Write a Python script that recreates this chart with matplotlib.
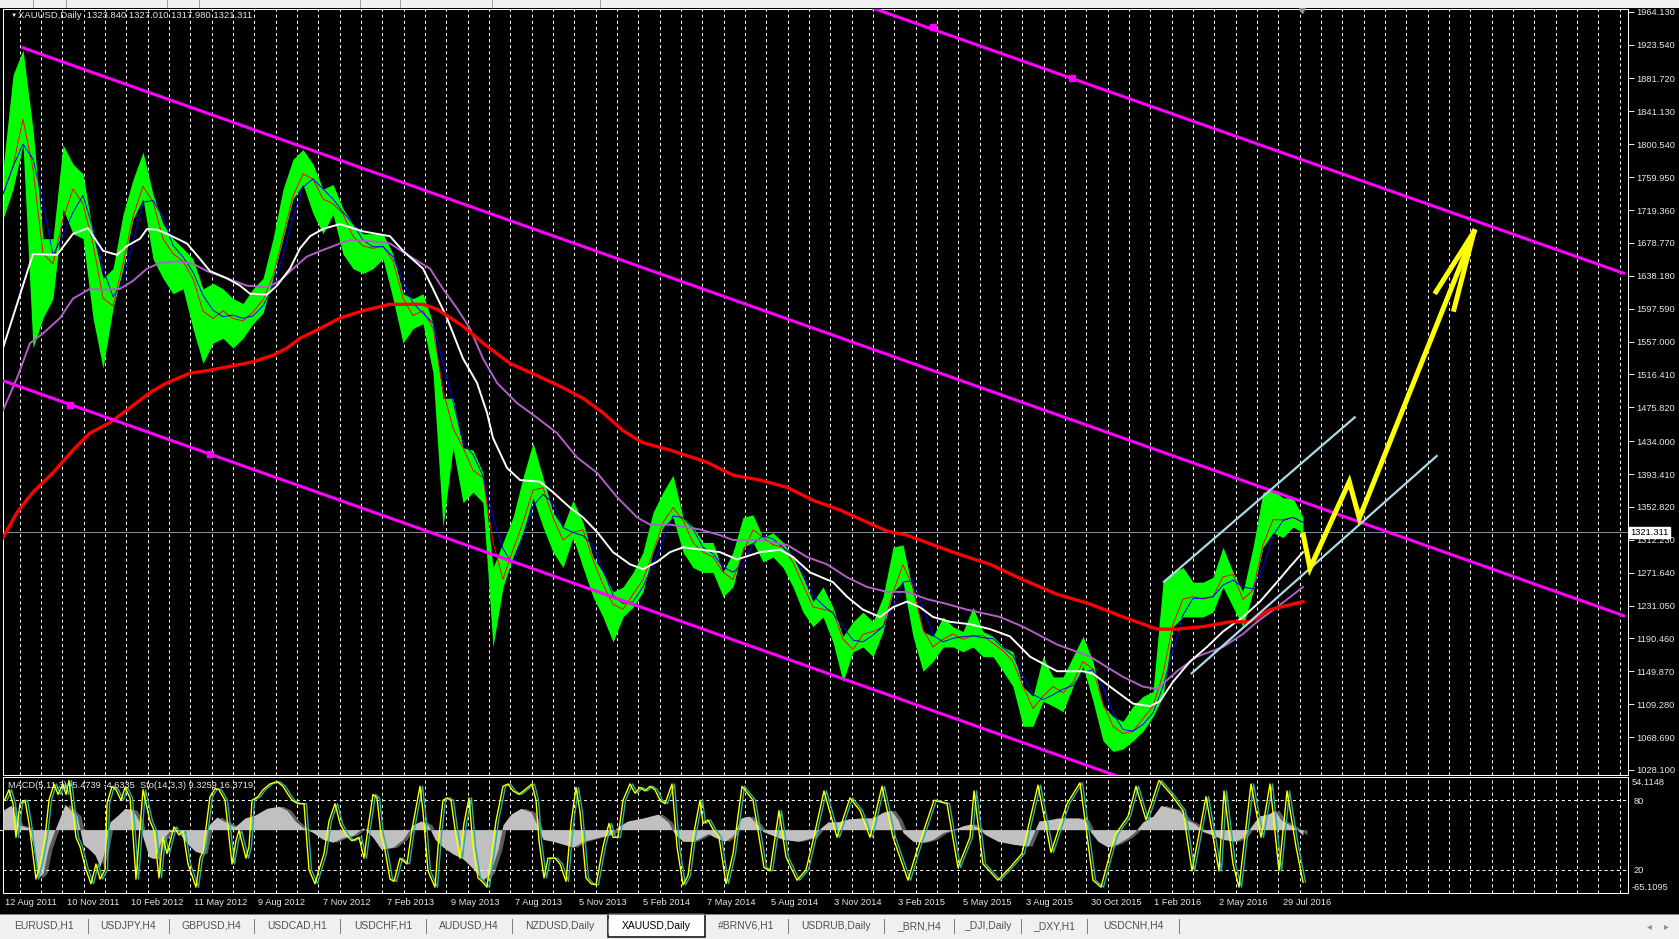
import numpy as np
import pandas as pd
import matplotlib
matplotlib.use("Agg")
import matplotlib.pyplot as plt
import matplotlib.transforms as mtrans
from matplotlib.patches import Rectangle

plt.rcParams['font.family'] = ['Liberation Sans', 'DejaVu Sans']
plt.rcParams['lines.scale_dashes'] = False

# price samples, every 10 daily bars (bar 0 = 12 Aug 2011)
bars = np.arange(0, 1310, 10)
mid = [1739, 1807, 1856, 1684, 1647, 1659, 1758, 1733, 1721, 1635,
       1586, 1616, 1690, 1733, 1764, 1696, 1672, 1659, 1653, 1616,
       1573, 1598, 1592, 1579, 1586, 1601, 1616, 1659, 1715, 1758,
       1770, 1745, 1721, 1733, 1696, 1678, 1672, 1672, 1678, 1635,
       1586, 1592, 1598, 1549, 1444, 1457, 1395, 1401, 1377, 1242,
       1285, 1315, 1352, 1395, 1358, 1321, 1303, 1340, 1309, 1266,
       1248, 1217, 1236, 1254, 1272, 1321, 1346, 1358, 1315, 1303,
       1291, 1291, 1254, 1272, 1321, 1328, 1303, 1309, 1297, 1272,
       1242, 1217, 1236, 1211, 1168, 1186, 1205, 1193, 1217, 1278,
       1285, 1223, 1180, 1180, 1199, 1193, 1186, 1202, 1186, 1183,
       1168, 1156, 1107, 1101, 1137, 1125, 1122, 1150, 1174, 1131,
       1088, 1076, 1070, 1082, 1101, 1113, 1180, 1236, 1242, 1242,
       1236, 1248, 1285, 1254, 1223, 1278, 1334, 1340, 1334, 1346,
       1321]
high = [1770, 1886, 1917, 1819, 1684, 1684, 1800, 1776, 1764, 1690,
        1635, 1647, 1714, 1757, 1791, 1739, 1702, 1684, 1672, 1659,
        1622, 1629, 1622, 1610, 1604, 1622, 1635, 1684, 1745, 1782,
        1794, 1776, 1745, 1751, 1721, 1702, 1690, 1690, 1690, 1665,
        1616, 1610, 1616, 1579, 1487, 1487, 1426, 1423, 1395, 1278,
        1309, 1340, 1389, 1432, 1389, 1346, 1328, 1361, 1334, 1291,
        1272, 1248, 1254, 1272, 1297, 1346, 1371, 1392, 1340, 1328,
        1309, 1309, 1272, 1297, 1340, 1343, 1315, 1321, 1309, 1291,
        1266, 1236, 1254, 1229, 1193, 1211, 1223, 1211, 1242, 1303,
        1306, 1248, 1199, 1193, 1217, 1205, 1199, 1229, 1199, 1193,
        1180, 1174, 1131, 1119, 1168, 1143, 1143, 1168, 1193, 1162,
        1107, 1094, 1088, 1107, 1119, 1125, 1260, 1272, 1278, 1260,
        1260, 1266, 1303, 1272, 1248, 1303, 1371, 1374, 1364, 1364,
        1340]
low = [1708, 1745, 1800, 1549, 1586, 1610, 1721, 1690, 1684, 1586,
       1524, 1598, 1647, 1708, 1733, 1659, 1635, 1616, 1622, 1573,
       1530, 1555, 1561, 1549, 1561, 1579, 1592, 1635, 1684, 1733,
       1751, 1715, 1690, 1714, 1665, 1647, 1641, 1647, 1659, 1610,
       1555, 1573, 1579, 1518, 1328, 1426, 1358, 1371, 1358, 1180,
       1254, 1291, 1321, 1364, 1328, 1297, 1278, 1315, 1278, 1242,
       1217, 1186, 1217, 1229, 1248, 1297, 1328, 1340, 1297, 1278,
       1272, 1272, 1242, 1254, 1303, 1309, 1285, 1291, 1278, 1254,
       1223, 1205, 1217, 1186, 1137, 1174, 1180, 1168, 1199, 1248,
       1260, 1193, 1150, 1162, 1180, 1180, 1174, 1180, 1168, 1168,
       1150, 1131, 1082, 1082, 1113, 1107, 1100, 1131, 1156, 1113,
       1064, 1051, 1054, 1064, 1076, 1094, 1119, 1205, 1217, 1217,
       1217, 1223, 1254, 1229, 1205, 1248, 1303, 1321, 1315, 1328,
       1321]

# moving averages (bar, price)
white_x = [0, 30, 54, 70, 85, 100, 114, 124, 137, 144, 154, 164, 184, 197, 207, 224, 237, 247, 264, 274,
           287, 297, 307, 320, 337, 360, 387, 400, 420, 430, 444, 460, 474, 484, 490, 504, 517, 537, 550, 567,
           580, 594, 610, 627, 640, 654, 667, 680, 717, 734, 757, 777, 790, 807, 830, 844, 860, 877, 890, 904,
           917, 930, 947, 967, 987, 1007, 1027, 1054, 1080, 1090, 1107, 1130, 1147, 1157, 1170, 1187, 1204, 1220,
           1240, 1257, 1274, 1287, 1300]
white_y = [1549, 1665, 1664, 1690, 1697, 1669, 1664, 1675, 1684, 1696, 1695, 1690, 1678, 1659, 1644, 1635, 1626, 1616, 1615, 1626,
           1647, 1672, 1687, 1696, 1702, 1693, 1687, 1669, 1647, 1622, 1586, 1536, 1506, 1469, 1438, 1401, 1386, 1384, 1371, 1352,
           1340, 1322, 1297, 1282, 1276, 1285, 1297, 1303, 1297, 1288, 1297, 1300, 1291, 1272, 1260, 1242, 1226, 1217, 1229, 1236,
           1229, 1217, 1211, 1208, 1202, 1193, 1168, 1150, 1150, 1147, 1131, 1110, 1107, 1113, 1137, 1162, 1180, 1199,
           1217, 1236, 1260, 1279, 1297]
violet_x = [0, 14, 27, 40, 57, 70, 87, 100, 117, 130, 144, 157, 174, 190, 204, 224, 244, 264, 277, 290,
            304, 320, 337, 347, 367, 387, 407, 427, 440, 454, 467, 480, 494, 514, 534, 554, 574, 594, 614, 634,
            647, 667, 697, 717, 730, 757, 784, 804, 824, 844, 864, 884, 904, 924, 944, 964, 997, 1020, 1054, 1087,
            1120, 1140, 1154, 1174, 1194, 1220, 1240, 1254, 1274, 1300]
violet_y = [1472, 1512, 1555, 1567, 1586, 1610, 1622, 1621, 1622, 1632, 1647, 1654, 1656, 1653, 1644, 1635, 1626, 1624, 1632, 1647,
            1662, 1670, 1678, 1682, 1681, 1678, 1662, 1647, 1622, 1598, 1573, 1536, 1506, 1481, 1463, 1444, 1414, 1395, 1365, 1340,
            1331, 1331, 1325, 1318, 1312, 1312, 1306, 1291, 1282, 1266, 1254, 1248, 1248, 1239, 1233, 1226, 1217, 1205, 1183, 1168,
            1143, 1131, 1128, 1150, 1168, 1180, 1196, 1211, 1229, 1254]
ma200_x = [0, 14, 30, 50, 70, 87, 107, 130, 147, 164, 187, 204, 230, 250, 270, 284, 297, 317, 337, 360,
           387, 420, 434, 460, 480, 507, 534, 560, 580, 600, 620, 640, 667, 704, 730, 757, 784, 810, 837, 864,
           884, 904, 930, 957, 987, 1020, 1054, 1087, 1120, 1154, 1174, 1200, 1227, 1247, 1267, 1300]
ma200_y = [1315, 1346, 1371, 1395, 1423, 1444, 1457, 1478, 1494, 1506, 1518, 1521, 1527, 1532, 1540, 1549, 1561, 1573, 1586, 1595,
           1603, 1603, 1597, 1576, 1555, 1530, 1515, 1500, 1487, 1469, 1447, 1432, 1423, 1408, 1392, 1386, 1377, 1361, 1349, 1334,
           1323, 1318, 1306, 1294, 1282, 1263, 1245, 1233, 1217, 1202, 1202, 1205, 1211, 1211, 1226, 1236]

# MACD(5,11,3) main values (bar, value)
macd_x = [0, 8, 16, 25, 30, 35, 40, 45, 50, 56, 62, 68, 74, 80, 86, 92, 97, 102, 107, 115,
          122, 130, 136, 140, 146, 152, 158, 166, 175, 184, 192, 200, 206, 214, 222, 232, 242, 252, 264, 276,
          284, 292, 300, 310, 320, 330, 340, 350, 360, 370, 378, 390, 400, 410, 418, 425, 432, 440, 450, 460,
          470, 480, 487, 495, 500, 508, 518, 528, 534, 540, 550, 560, 570, 580, 595, 607, 615, 625, 640, 655,
          665, 672, 680, 690, 698, 705, 712, 722, 730, 738, 746, 754, 760, 770, 780, 795, 810, 818, 825, 835,
          845, 858, 870, 880, 888, 895, 900, 910, 920, 930, 940, 950, 960, 968, 975, 982, 995, 1010, 1025, 1030,
          1036, 1045, 1055, 1065, 1075, 1082, 1088, 1095, 1105, 1115, 1125, 1132, 1140, 1150, 1158, 1168, 1176, 1184, 1192, 1200,
          1208, 1220, 1232, 1240, 1248, 1256, 1265, 1272, 1278, 1285, 1292, 1297, 1300]
macd_y = [20, 25, 5, 2, -15, -50, -45, -20, -5, 10, 26, 20, 14, -15, -20, -26, -38, -20, 8, 15,
          22, 20, 9, -8, -28, -30, -12, -2, -2, -14, -22, -25, 5, 13, 8, 3, 12, 15, 22, 24,
          20, 9, 2, -3, -10, -13, -8, -6, 2, -8, -20, -18, -10, 5, 9, 5, -10, -18, -25, -30,
          -40, -52, -45, -20, 5, 16, 22, 18, 5, -10, -12, -15, -18, -12, -8, -5, 3, 9, 12, 16,
          8, -5, -12, -12, -8, -4, -8, -12, -6, 12, 14, 6, -2, -6, -10, -12, -8, 2, 8, 8,
          11, 12, 12, 18, 20, 10, -3, -12, -13, -10, -3, 0, 4, 6, 2, -5, -12, -15, -17, -5,
          9, 10, 12, 12, 12, 10, -3, -12, -18, -14, -8, -2, 8, 14, 25, 22, 20, 10, 6, -2,
          -5, -10, -12, -8, 3, 14, 16, 20, 10, 6, 2, -3, -5.47]

# Stochastic(14,3,3) main line turning points (bar, value)
sto_x = [1.5, 6, 10, 13, 17, 22, 26, 33, 37, 42, 46, 51, 55, 60, 63, 66, 73, 77, 83, 88,
         93, 97, 102, 104, 109, 113, 118, 122, 127, 130, 133, 140, 147, 151, 156, 160, 164, 171, 176, 180,
         185, 193, 197, 200, 207, 212, 216, 222, 229, 233, 236, 243, 246, 249, 255, 260, 267, 274, 280, 285,
         289, 295, 301, 306, 312, 316, 321, 326, 332, 337, 343, 349, 356, 361, 365, 370, 374, 378, 382, 387,
         391, 397, 404, 409, 417, 420, 425, 432, 436, 440, 444, 448, 452, 457, 461, 466, 470, 475, 479, 484,
         488, 493, 500, 505, 510, 516, 522, 529, 533, 536, 541, 545, 552, 557, 563, 568, 573, 577, 583, 588,
         593, 600, 606, 610, 615, 620, 627, 632, 637, 642, 647, 652, 657, 662, 669, 674, 680, 685, 690, 697,
         700, 705, 710, 716, 723, 730, 739, 750, 761, 767, 776, 783, 794, 803, 810, 821, 834, 847, 857, 867,
         879, 890, 905, 913, 931, 944, 955, 967, 971, 980, 995, 1007, 1019, 1035, 1048, 1064, 1077, 1090, 1098, 1112,
         1125, 1133, 1143, 1156, 1168, 1180, 1189, 1203, 1216, 1221, 1230, 1236, 1248, 1258, 1267, 1276, 1284, 1293, 1300]
sto_y = [80, 89, 77, 48, 77, 80, 60, 12, 25, 48, 80, 94, 85, 94, 85, 97, 48, 40, 20, 8,
         25, 12, 20, 77, 92, 89, 80, 91, 82, 50, 12, 89, 62, 54, 13, 48, 34, 57, 50, 53,
         25, 5, 30, 36, 83, 90, 89, 80, 25, 45, 54, 30, 40, 80, 83, 89, 94, 96, 92, 85,
         80, 77, 77, 20, 8, 20, 34, 62, 77, 60, 50, 45, 48, 30, 56, 85, 82, 50, 37, 12,
         10, 30, 25, 55, 92, 70, 19, 5, 50, 80, 82, 80, 55, 30, 60, 82, 40, 13, 10, 5,
         30, 62, 92, 94, 88, 85, 89, 94, 80, 45, 13, 30, 30, 25, 10, 60, 91, 70, 13, 8,
         7, 40, 60, 48, 48, 80, 94, 86, 91, 88, 92, 89, 80, 77, 94, 40, 7, 15, 48, 80,
         60, 63, 55, 48, 8, 34, 92, 80, 22, 19, 71, 31, 11, 20, 45, 88, 48, 82, 71, 48,
         92, 48, 11, 34, 80, 77, 22, 48, 88, 25, 11, 22, 34, 93, 35, 77, 95, 11, 5, 50,
         66, 92, 63, 97, 85, 71, 19, 83, 19, 88, 25, 5, 94, 48, 94, 19, 88, 40, 9.33]

# drawn objects (bar, price)
chan_top = ([18.7, 1622], [1920.2, 1218.0])
chan_low = ([0, 1120], [1508.7, 1018.0])
chan_up2 = ([870, 1622], [1968.5, 1640.7])
chan_marks = ([67, 207, 929.7, 1068.7], [1479.2, 1418.1, 1944.7, 1882.2])
blue_up = ([1161, 1351.7], [1260.5, 1463.4])
blue_low = ([1188.7, 1433.7], [1147.4, 1415.7])
arrow_x = [1300.3, 1307, 1346.3, 1356.3, 1471]
arrow_y = [1318.2, 1277.1, 1384.0, 1338.8, 1692.6]
barbs = ([1433, 1451], [1618.5, 1596.8])
last_price = 1321.311

price_ticks = [1964.130, 1923.540, 1881.720, 1841.130, 1800.540, 1759.950, 1719.360, 1678.770,
               1638.180, 1597.590, 1557.000, 1516.410, 1475.820, 1434.000, 1393.410, 1352.820,
               1312.230, 1271.640, 1231.050, 1190.460, 1149.870, 1109.280, 1068.690, 1028.100]
date_labels = ['12 Aug 2011', '10 Nov 2011', '10 Feb 2012', '11 May 2012', '9 Aug 2012', '7 Nov 2012',
               '7 Feb 2013', '9 May 2013', '7 Aug 2013', '5 Nov 2013', '5 Feb 2014', '7 May 2014',
               '5 Aug 2014', '3 Nov 2014', '3 Feb 2015', '5 May 2015', '3 Aug 2015', '30 Oct 2015',
               '1 Feb 2016', '2 May 2016', '29 Jul 2016']
date_pos = [2.4, 64, 128, 191, 255, 320, 384, 448, 512, 576, 640, 704, 768, 831, 895, 960, 1023,
            1088, 1151, 1216, 1280]
tabs = ['EURUSD,H1', 'USDJPY,H4', 'GBPUSD,H4', 'USDCAD,H1', 'USDCHF,H1', 'AUDUSD,H4', 'NZDUSD,Daily',
        'XAUUSD,Daily', '#BRNV6,H1', 'USDRUB,Daily', '_BRN,H4', '_DJI,Daily', '_DXY,H1', 'USDCNH,H4']
tab_edges = [0, 88, 169, 254, 340, 426, 512, 608, 705, 788, 884, 954, 1021, 1087, 1179]

W, H = 1679, 939
fig = plt.figure(figsize=(W / 100, H / 100), dpi=100, facecolor='black')
px = 0.72  # one pixel in points
txt = '#e8e8e8'

# main price window
ax = fig.add_axes([3 / W, 1 - 775 / H, 1625 / W, 766 / H])
ax.set_facecolor('black')
ax.set_xlim(0, 1625)
ax.set_ylim(1021.9, 1967.5)
for s in ax.spines.values():
    s.set_color('white')
    s.set_linewidth(px)

grid_x = np.arange(16.8, 1625, 64 / 3)
ax.vlines(grid_x, 1021.9, 1967.5, colors='white', linestyles=(0, (2.2, 2.2)), lw=px, zorder=1)
ax.axhline(last_price, color='#7a8a9a', lw=px, zorder=1)

ax.fill_between(bars, low, high, color='#00ff00', lw=0, zorder=2)
ax.plot(bars, mid, color='#00ff00', lw=1.2, zorder=2)
s_mid = pd.Series(mid, dtype=float)
ax.plot(bars, s_mid.rolling(2, min_periods=1).mean(), color='red', lw=px, zorder=3)
ax.plot(bars, s_mid.rolling(3, min_periods=1).mean(), color='blue', lw=px, zorder=3)
ax.plot(violet_x, violet_y, color='#b060c8', lw=1.4, zorder=4)
ax.plot(white_x, white_y, color='white', lw=1.4, zorder=4)
ax.plot(ma200_x, ma200_y, color='red', lw=2.4, zorder=5)

for ln in (chan_top, chan_low, chan_up2):
    ax.plot(ln[0], ln[1], color='#ff00ff', lw=2.2, zorder=6, solid_capstyle='butt')
ax.plot(chan_marks[0], chan_marks[1], 's', color='#ff00ff', ms=4, zorder=6)
for ln in (blue_up, blue_low):
    ax.plot(ln[0], ln[1], color='#add8e6', lw=1.6, zorder=6)
ax.plot(arrow_x, arrow_y, color='#ffff00', lw=3.6, zorder=7, solid_joinstyle='miter')
for bx, by in zip(*barbs):
    ax.plot([arrow_x[-1], bx], [arrow_y[-1], by], color='#ffff00', lw=3.6, zorder=7)
ax.plot([1299], [1967.5], marker='v', color='#909090', ms=6, clip_on=False, zorder=8)

ax.set_xticks([])
ax.yaxis.tick_right()
ax.set_yticks(price_ticks)
ax.set_yticklabels(['%.3f' % v for v in price_ticks])
ax.tick_params(axis='y', colors=txt, labelsize=6.7, length=4, width=px, pad=2)
for lab in ax.get_yticklabels():
    lab.set_color(txt)
tr = mtrans.blended_transform_factory(ax.transAxes, ax.transData)
ax.text(1.0015, last_price, '1321.311', transform=tr, fontsize=6.7, color='black', va='center',
        ha='left', bbox=dict(boxstyle='square,pad=0.15', fc='white', ec='white'), zorder=10, clip_on=False)

ax.text(0.0045, 0.991, '\u25BC', transform=ax.transAxes, fontsize=4.5, color='white', va='center')
ax.text(0.009, 0.991, 'XAUUSD,Daily  1323.840 1327.010 1317.980 1321.311', transform=ax.transAxes,
        fontsize=6.8, color=txt, va='center')

# indicator window: MACD + Stochastic
ax2 = fig.add_axes([3 / W, 1 - 893 / H, 1625 / W, 116 / H])
ax2.set_facecolor('black')
ax2.set_xlim(0, 1625)
ax2.set_ylim(-65.1095, 54.1148)
for s in ax2.spines.values():
    s.set_color('white')
    s.set_linewidth(px)
ax2.vlines(grid_x, -65.1095, 54.1148, colors='white', linestyles=(0, (2.2, 2.2)), lw=px, zorder=1)
mx = np.array(macd_x, dtype=float)
ax2.fill_between(mx + 4, macd_y, 0, color='#5c5c5c', lw=0, zorder=2)
ax2.fill_between(mx, macd_y, 0, color='#c0c0c0', lw=0, zorder=3)
ax2.set_xticks([])
ax2.yaxis.tick_right()
ax2.set_yticks([0])
ax2.set_yticklabels(['0.00'])
ax2.tick_params(axis='y', colors=txt, labelsize=6.7, length=4, width=px, pad=2)

ax3 = ax2.twinx()
ax3.set_ylim(0, 100)
ax3.set_xlim(0, 1625)
for s in ax3.spines.values():
    s.set_visible(False)
ax3.axhline(80, color='white', ls=(0, (2.2, 2.2)), lw=px, zorder=1)
ax3.axhline(20, color='white', ls=(0, (2.2, 2.2)), lw=px, zorder=1)
sx = np.array(sto_x, dtype=float)
ax3.plot(sx + 2.5, sto_y, color='#20b2aa', lw=1.0, zorder=4)
ax3.plot(sx, sto_y, color='#ffff00', lw=1.0, zorder=5)
ax3.set_yticks([80, 20])
ax3.set_yticklabels(['80', '20'])
ax3.tick_params(axis='y', colors=txt, labelsize=6.7, length=0, pad=4)
ax3.text(1.002, 0.99, '54.1148', transform=ax3.transAxes, fontsize=6.7, color=txt, va='top', ha='left')
ax3.text(1.002, 0.01, '-65.1095', transform=ax3.transAxes, fontsize=6.7, color=txt, va='bottom', ha='left')
ax3.text(0.003, 0.93, 'MACD(5,11,3) -5.4739 -4.6335  Sto(14,3,3) 9.3259 16.3719', transform=ax3.transAxes,
         fontsize=6.7, color=txt, va='center', zorder=6)

# time axis labels
trd = mtrans.blended_transform_factory(ax2.transData, ax2.transAxes)
for pos, lab in zip(date_pos, date_labels):
    ax2.text(pos, -0.078, lab, transform=trd, fontsize=6.7, color=txt, va='center', ha='left', clip_on=False)

# top strip and bottom tab bar
fig.patches.append(Rectangle((0, 1 - 8 / H), 1, 8 / H, transform=fig.transFigure, fc='#f0f0f0', ec='none'))
for xs in (33, 66, 167, 199, 360, 400, 492, 600):
    fig.add_artist(plt.Line2D([xs / W, xs / W], [1 - 7 / H, 1], color='#a0a0a0', lw=px))
fig.patches.append(Rectangle((0, 0), 1, 25 / H, transform=fig.transFigure, fc='#f0f0f0', ec='none'))
fig.add_artist(plt.Line2D([0, 1], [25 / H, 25 / H], color='#808080', lw=px))
for i, name in enumerate(tabs):
    x0, x1 = tab_edges[i], tab_edges[i + 1]
    if name == 'XAUUSD,Daily':
        fig.patches.append(Rectangle((x0 / W, 2 / H), (x1 - x0) / W, 24 / H, transform=fig.transFigure,
                                     fc='white', ec='black', lw=px * 1.5))
        col = 'black'
    else:
        col = '#505050'
        fig.add_artist(plt.Line2D([x1 / W, x1 / W], [6 / H, 20 / H], color='#808080', lw=px))
    fig.text((x0 + x1) / 2 / W, 13 / H, name, fontsize=7.5, color=col, ha='center', va='center')
fig.text(1649 / W, 13 / H, '\u25C2', fontsize=7, color='#909090', ha='center', va='center')
fig.text(1666 / W, 13 / H, '\u25B8', fontsize=7, color='#909090', ha='center', va='center')

fig.savefig('out.png', dpi=100, facecolor='black')
